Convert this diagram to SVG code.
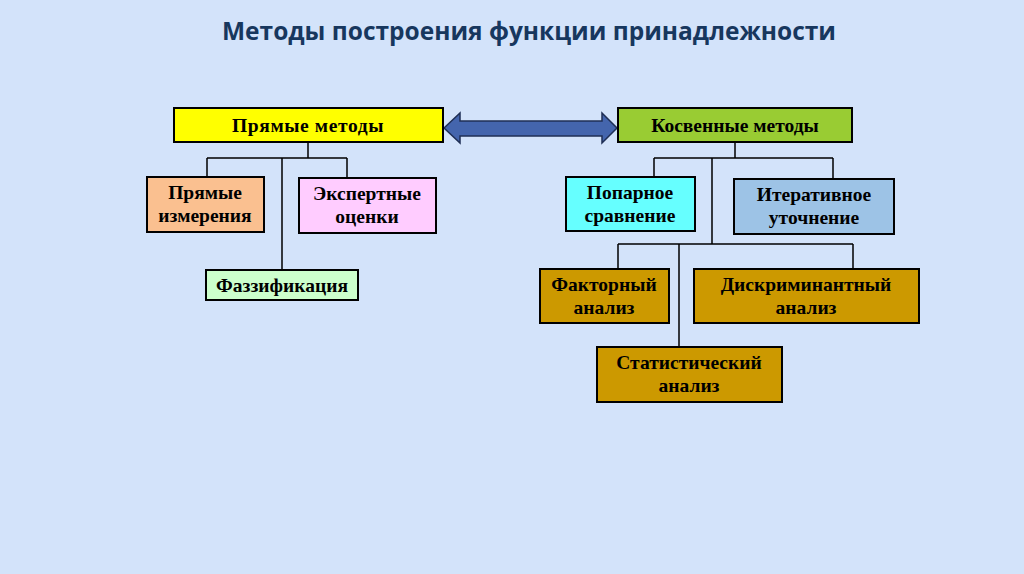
<svg xmlns="http://www.w3.org/2000/svg" width="1024" height="574" viewBox="0 0 1024 574">
<style>
.box{stroke:#000;stroke-width:2}
.t{font-family:"Liberation Serif","Times New Roman",serif;font-weight:bold;font-size:19.5px;fill:#000;text-anchor:middle}
.ln{stroke:#000;stroke-width:1.5;fill:none}
.title{font-family:"Open Sans","Noto Sans",sans-serif;font-weight:bold;font-size:24.5px;fill:#17375E;text-anchor:middle}
</style>
<rect x="0" y="0" width="1024" height="574" fill="#D3E3FA"/>
<text class="title" x="529" y="40">Методы построения функции принадлежности</text>
<g id="connectors">
<path class="ln" d="M308 142V158M207 158H347M207 158V177M347 158V178M282 158V270"/>
<path class="ln" d="M735 142V158M654 158H833M654 158V177M833 158V179M712 158V244M618 244H853M618 244V269M853 244V269M679 244V347"/>
<polygon points="444,128 460,113 460,121 602,121 602,113 617,128 602,143 602,136 460,136 460,143" fill="#4465AD" stroke="#1F2F55" stroke-width="1.5"/>
</g>
<g id="direct"><rect class="box" x="174" y="108" width="269" height="34" fill="#FFFF00"/><text class="t" x="308" y="132" letter-spacing="0.6">Прямые методы</text></g>
<g id="indirect"><rect class="box" x="618" y="108" width="234" height="34" fill="#99CC33"/><text class="t" x="735" y="132">Косвенные методы</text></g>
<g id="measure"><rect class="box" x="147" y="177" width="117" height="55" fill="#FAC090"/><text class="t" x="205" y="199">Прямые</text><text class="t" x="205" y="222">измерения</text></g>
<g id="expert"><rect class="box" x="299" y="178" width="137" height="55" fill="#FFCCFF"/><text class="t" x="367" y="200">Экспертные</text><text class="t" x="367" y="223">оценки</text></g>
<g id="fuzz"><rect class="box" x="206" y="270" width="152" height="30" fill="#CCFFCC"/><text class="t" x="282" y="292">Фаззификация</text></g>
<g id="pair"><rect class="box" x="566" y="177" width="129" height="54" fill="#66FFFF"/><text class="t" x="630" y="199">Попарное</text><text class="t" x="630" y="222">сравнение</text></g>
<g id="iter"><rect class="box" x="734" y="179" width="160" height="55" fill="#9DC3E6"/><text class="t" x="814" y="201">Итеративное</text><text class="t" x="814" y="224">уточнение</text></g>
<g id="factor"><rect class="box" x="540" y="269" width="129" height="54" fill="#CC9900"/><text class="t" x="604" y="291">Факторный</text><text class="t" x="604" y="314">анализ</text></g>
<g id="discr"><rect class="box" x="694" y="269" width="225" height="54" fill="#CC9900"/><text class="t" x="806" y="291">Дискриминантный</text><text class="t" x="806" y="314">анализ</text></g>
<g id="stat"><rect class="box" x="597" y="347" width="185" height="55" fill="#CC9900"/><text class="t" x="689" y="369">Статистический</text><text class="t" x="689" y="392">анализ</text></g>
</svg>
